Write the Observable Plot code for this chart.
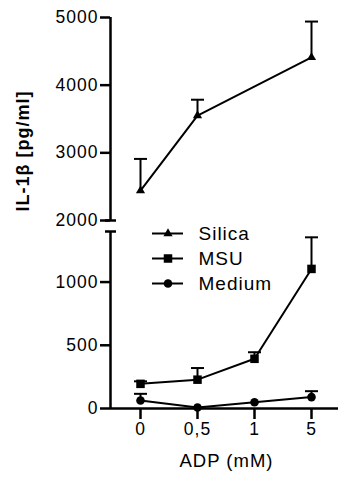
<!DOCTYPE html>
<html><head><meta charset="utf-8">
<script src="https://cdn.jsdelivr.net/npm/d3@7"></script>
<script src="https://cdn.jsdelivr.net/npm/@observablehq/plot@0.6"></script>
<style>
body{margin:0;background:#fff;}
#wrap{position:relative;width:341px;height:480px;overflow:hidden;}
#legend{position:absolute;left:140px;top:215px;}
svg text{letter-spacing:1px;}
</style></head><body>
<div id="wrap"><div id="chart"></div><div id="legend"></div></div>
<script>
// ---- data ----
const doses = ["0", "0,5", "1", "5"];
const seriesNames = ["Silica", "MSU", "Medium"];
const silica = [2440, 3550, null, 4410];
const silicaErr = [470, 235, null, 530];
const msu = [195, 228, 393, 1104];
const msuErr = [20, 92, 52, 250];
const medium = [63, 8, 50, 90];
const mediumErr = [53, 0, 0, 47];
const yTicks = [0, 500, 1000, 2000, 3000, 4000, 5000];
const lowerSegment = [0, 1400];
const upperSegment = [2000, 5000];
const yLabel = "IL-1β [pg/ml]";
const xLabel = "ADP (mM)";

// ---- layout ----
const W = 341, H = 480;
const mL = 110, mR = 3, mT = 17, mB = 72;
const xRange = [140, 311];
const yDomain = [lowerSegment[0], lowerSegment[1], upperSegment[0], upperSegment[1]];
const yRange = [H - mB, 231, 220, mT];
const axisDx = mL - xRange[0];
const font = "'Liberation Sans', Arial, Helvetica, sans-serif";

function rowsOf(name, vals, errs) {
  return doses.map((d, i) => ({dose: d, series: name, value: vals[i], err: errs[i]}))
              .filter(r => r.value != null);
}
const rows = [
  ...rowsOf("Silica", silica, silicaErr),
  ...rowsOf("MSU", msu, msuErr),
  ...rowsOf("Medium", medium, mediumErr)
];
const symbolOf = {Silica: "triangle", MSU: "square", Medium: "circle"};
const rOf = {Silica: 3.4, MSU: 4.8, Medium: 4.3};

// horizontal cap symbol (fixed width) for error bars and axis-break caps
const cap = (half) => ({draw(ctx) { ctx.moveTo(-half, 0); ctx.lineTo(half, 0); }});

const dots = seriesNames.map(s => Plot.dot(rows.filter(r => r.series === s), {
  x: "dose", y: "value", symbol: symbolOf[s], r: rOf[s], fill: "black", stroke: "none"
}));

const chart = Plot.plot({
  width: W, height: H,
  marginLeft: mL, marginRight: mR, marginTop: mT, marginBottom: mB,
  style: {fontFamily: font, color: "black", background: "white"},
  x: {type: "point", domain: doses, range: xRange, padding: 0, axis: null},
  y: {type: "linear", domain: yDomain, range: yRange, axis: null},
  marks: [
    // axis lines (broken y axis)
    Plot.ruleY([0], {strokeWidth: 2.5}),
    Plot.ruleX([lowerSegment, upperSegment], {x: () => doses[0], y1: d => d[0], y2: d => d[1], dx: axisDx, strokeWidth: 2.5}),
    Plot.dot([lowerSegment[1], upperSegment[0]], {x: () => doses[0], y: d => d, dx: axisDx, symbol: cap(5.5), r: 3, fill: "none", stroke: "black", strokeWidth: 2.5}),
    Plot.axisY(yTicks, {anchor: "left", tickSize: 10, tickPadding: 2, fontSize: 17.5, strokeWidth: 2.5, tickFormat: d => String(d), label: null}),
    Plot.axisX(doses, {anchor: "bottom", tickSize: 11, tickPadding: 3, fontSize: 17.5, strokeWidth: 2.5, label: null}),
    Plot.text([yLabel], {frameAnchor: "left", rotate: -90, dx: -87.5, dy: -1.5, fontSize: 18, fontWeight: "bold"}),
    Plot.text([xLabel], {frameAnchor: "bottom", dx: 2, dy: 58, fontSize: 18.5}),
    // error bars (upper only)
    Plot.ruleX(rows.filter(r => r.err > 0), {x: "dose", y1: "value", y2: r => r.value + r.err, strokeWidth: 2}),
    Plot.dot(rows.filter(r => r.err > 0), {x: "dose", y: r => r.value + r.err, symbol: cap(6.5), r: 3, fill: "none", stroke: "black", strokeWidth: 2}),
    // lines
    Plot.line(rows, {x: "dose", y: "value", z: "series", stroke: "black", strokeWidth: 2}),
    ...dots
  ]
});
document.getElementById("chart").append(chart);

// ---- legend (overlay plot) ----
const legendDots = seriesNames.map(s => Plot.dot([s], {
  x: () => 0.5, y: d => d, symbol: symbolOf[s], r: rOf[s], fill: "black", stroke: "none"
}));
const legend = Plot.plot({
  width: 200, height: 85,
  margin: 0,
  style: {fontFamily: font, color: "black", background: "transparent"},
  x: {domain: [0, 1], range: [12, 43], axis: null},
  y: {type: "point", domain: seriesNames, range: [17, 68], padding: 0, axis: null},
  marks: [
    Plot.ruleY(seriesNames, {y: d => d, x1: () => 0, x2: () => 1, strokeWidth: 2}),
    ...legendDots,
    Plot.text(seriesNames, {y: d => d, x: () => 1, dx: 15, textAnchor: "start", fontSize: 19, text: d => d})
  ]
});
document.getElementById("legend").append(legend);
</script>
</body></html>
